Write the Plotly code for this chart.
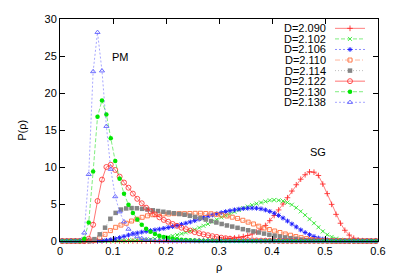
import plotly.graph_objects as go

# ---------------- data ----------------
RHO_120 = [0.0042, 0.0125, 0.0208, 0.0292, 0.0375, 0.0458, 0.0542, 0.0625, 0.0708, 0.0792, 0.0875, 0.0958,
           0.1042, 0.1125, 0.1208, 0.1292, 0.1375, 0.1458, 0.1542, 0.1625, 0.1708, 0.1792, 0.1875, 0.1958,
           0.2042, 0.2125, 0.2208, 0.2292, 0.2375, 0.2458, 0.2542, 0.2625, 0.2708, 0.2792, 0.2875, 0.2958,
           0.3042, 0.3125, 0.3208, 0.3292, 0.3375, 0.3458, 0.3542, 0.3625, 0.3708, 0.3792, 0.3875, 0.3958,
           0.4042, 0.4125, 0.4208, 0.4292, 0.4375, 0.4458, 0.4542, 0.4625, 0.4708, 0.4792, 0.4875, 0.4958,
           0.5042, 0.5125, 0.5208, 0.5292, 0.5375, 0.5458, 0.5542, 0.5625, 0.5708, 0.5792, 0.5875, 0.5958]

RHO_100 = [0.005, 0.015, 0.025, 0.035, 0.045, 0.055, 0.065, 0.075, 0.085, 0.095, 0.105, 0.115,
           0.125, 0.135, 0.145, 0.155, 0.165, 0.175, 0.185, 0.195, 0.205, 0.215, 0.225, 0.235,
           0.245, 0.255, 0.265, 0.275, 0.285, 0.295, 0.305, 0.315, 0.325, 0.335, 0.345, 0.355,
           0.365, 0.375, 0.385, 0.395, 0.405, 0.415, 0.425, 0.435, 0.445, 0.455, 0.465, 0.475,
           0.485, 0.495, 0.505, 0.515, 0.525, 0.535, 0.545, 0.555, 0.565, 0.575, 0.585, 0.595]

P_2090 = [0, 0, 0, 0, 0, 0, 0, 0, 0, 0, 0, 0,
          0, 0, 0, 0, 0, 0, 0, 0, 0, 0, 0, 0,
          0, 0, 0.01, 0.01, 0.02, 0.02, 0.03, 0.04, 0.06, 0.08, 0.11, 0.15,
          0.2, 0.26, 0.33, 0.41, 0.5, 0.6, 0.75, 0.95, 1.2, 1.6, 2.1, 2.75,
          3.45, 4.2, 5.0, 5.85, 6.75, 7.6, 8.35, 8.95, 9.35, 9.3, 8.85, 7.7,
          6.4, 4.95, 3.6, 2.4, 1.45, 0.8, 0.38, 0.15, 0.05, 0.02, 0, 0]

P_2102 = [0, 0, 0, 0, 0, 0, 0, 0, 0, 0, 0, 0.01,
          0.02, 0.03, 0.04, 0.06, 0.08, 0.1, 0.13, 0.17, 0.22, 0.28, 0.35, 0.45,
          0.55, 0.68, 0.82, 0.98, 1.15, 1.35, 1.55, 1.8, 2.05, 2.3, 2.6, 2.9,
          3.2, 3.45, 3.7, 3.95, 4.2, 4.45, 4.65, 4.85, 5.05, 5.2, 5.35, 5.5,
          5.55, 5.5, 5.4, 5.2, 4.9, 4.5, 4.0, 3.5, 2.95, 2.4, 1.85, 1.3,
          0.85, 0.55, 0.32, 0.18, 0.09, 0.04, 0.02, 0, 0, 0, 0, 0]

P_2106 = [0, 0, 0, 0, 0, 0, 0, 0, 0.02, 0.05, 0.1, 0.18,
          0.3, 0.45, 0.62, 0.8, 0.95, 1.08, 1.2, 1.3, 1.4, 1.5, 1.6, 1.7,
          1.82, 1.95, 2.1, 2.25, 2.4, 2.57, 2.75, 2.95, 3.15, 3.35, 3.52, 3.68,
          3.83, 3.97, 4.1, 4.2, 4.3, 4.38, 4.43, 4.45, 4.43, 4.35, 4.2, 4.0,
          3.75, 3.45, 3.1, 2.7, 2.3, 1.9, 1.5, 1.15, 0.85, 0.6, 0.4, 0.25,
          0.15, 0.08, 0.04, 0.02, 0, 0, 0, 0, 0, 0, 0, 0]

P_2110 = [0, 0, 0, 0, 0, 0, 0.05, 0.45, 0.9, 1.4, 1.85, 2.15,
          2.4, 2.7, 2.95, 3.2, 3.4, 3.55, 3.6, 3.65, 3.65, 3.7, 3.7, 3.7,
          3.72, 3.74, 3.75, 3.72, 3.68, 3.6, 3.5, 3.38, 3.22, 3.05, 2.8, 2.55,
          2.3, 2.0, 1.75, 1.55, 1.35, 1.15, 0.95, 0.78, 0.6, 0.45, 0.32, 0.2,
          0.12, 0.06, 0.03, 0, 0, 0, 0, 0, 0, 0, 0, 0]

P_2114 = [0, 0, 0, 0, 0, 0, 0.25, 0.9, 1.8, 3.0, 3.8, 4.25,
          4.4, 4.45, 4.42, 4.35, 4.25, 4.15, 4.05, 3.95, 3.85, 3.75, 3.65, 3.55,
          3.4, 3.25, 3.1, 2.9, 2.7, 2.5, 2.3, 2.1, 1.95, 1.78, 1.6, 1.45,
          1.3, 1.15, 1.0, 0.85, 0.72, 0.6, 0.48, 0.37, 0.27, 0.19, 0.12, 0.07,
          0.04, 0.02, 0.01, 0, 0, 0, 0, 0, 0, 0, 0, 0]

P_2122 = [0, 0, 0, 0, 0, 0, 0.3, 2.2, 5.4, 8.3, 10.0, 10.3,
          9.6, 8.7, 7.9, 7.2, 6.4, 5.7, 5.1, 4.5, 4.0, 3.6, 3.2, 2.85,
          2.6, 2.3, 2.05, 1.8, 1.6, 1.4, 1.2, 1.05, 0.9, 0.78, 0.65, 0.55,
          0.45, 0.38, 0.3, 0.24, 0.19, 0.15, 0.12, 0.09, 0.07, 0.05, 0.04, 0.03,
          0.02, 0.01, 0, 0, 0, 0, 0, 0, 0, 0, 0, 0,
          0, 0, 0, 0, 0, 0, 0, 0, 0, 0, 0, 0]

P_2130 = [0, 0, 0, 0, 0, 0.3, 2.5, 9.4, 16.8, 19.0, 17.1, 13.9,
          10.8, 8.4, 6.4, 4.9, 3.8, 2.9, 2.2, 1.65, 1.25, 0.95, 0.72, 0.55,
          0.42, 0.32, 0.24, 0.18, 0.13, 0.1, 0.07, 0.05, 0.04, 0.03, 0.02, 0.01,
          0, 0, 0, 0, 0, 0, 0, 0, 0, 0, 0, 0,
          0, 0, 0, 0, 0, 0, 0, 0, 0, 0, 0, 0,
          0, 0, 0, 0, 0, 0, 0, 0, 0, 0, 0, 0]

P_2138 = [0, 0, 0, 0, 0.05, 1.1, 9.0, 22.9, 28.2, 23.0, 15.5, 9.7,
          6.0, 3.95, 2.6, 1.6, 1.0, 0.6, 0.35, 0.2, 0.1, 0.05, 0.02, 0.01,
          0, 0, 0, 0, 0, 0, 0, 0, 0, 0, 0, 0,
          0, 0, 0, 0, 0, 0, 0, 0, 0, 0, 0, 0,
          0, 0, 0, 0, 0, 0, 0, 0, 0, 0, 0, 0,
          0, 0, 0, 0, 0, 0, 0, 0, 0, 0, 0, 0]

LABELS = ["D=2.090", "D=2.102", "D=2.106", "D=2.110", "D=2.114", "D=2.122", "D=2.130", "D=2.138"]
X_TICKS = [0, 0.1, 0.2, 0.3, 0.4, 0.5, 0.6]
X_TICKTEXT = ["0", "0.1", "0.2", "0.3", "0.4", "0.5", "0.6"]
Y_TICKS = [0, 5, 10, 15, 20, 25, 30]

# ---------------- styles ----------------
FONT = "Liberation Sans, Arial, sans-serif"
series = [
    dict(x=RHO_120, y=P_2090, color="rgba(255,40,40,0.85)", line="rgba(255,0,0,0.5)", dash="solid",
         symbol="cross-thin-open", size=4, mline=1),
    dict(x=RHO_120, y=P_2102, color="rgba(40,230,40,0.85)", line="rgba(0,220,0,0.5)", dash="4px,2px",
         symbol="x-thin-open", size=4, mline=1),
    dict(x=RHO_120, y=P_2106, color="#2020ff", line="rgba(0,0,255,0.45)", dash="2px,2px",
         symbol="asterisk-open", size=4, mline=1),
    dict(x=RHO_100, y=P_2110, color="rgba(255,110,60,0.9)", line="rgba(255,110,60,0.5)", dash="5px,2px,1px,2px",
         symbol="square-open", size=4, mline=1),
    dict(x=RHO_100, y=P_2114, color="#858585", line="rgba(128,128,128,0.5)", dash="1px,2px",
         symbol="square", size=4.5, mline=0),
    dict(x=RHO_120, y=P_2122, color="rgba(255,50,50,0.85)", line="rgba(255,0,0,0.55)", dash="solid",
         symbol="circle-open", size=5, mline=1),
    dict(x=RHO_120, y=P_2130, color="#00e600", line="rgba(0,220,0,0.5)", dash="4px,2px",
         symbol="circle", size=4.5, mline=0),
    dict(x=RHO_120, y=P_2138, color="rgba(90,90,255,0.85)", line="rgba(60,60,255,0.45)", dash="2px,2px",
         symbol="triangle-up-open", size=4.5, mline=1),
]

fig = go.Figure()
for lab, s in zip(LABELS, series):
    fig.add_trace(go.Scatter(
        x=s["x"], y=s["y"], mode="lines+markers", name=lab, showlegend=False,
        cliponaxis=False,
        line=dict(color=s["line"], width=1, dash=s["dash"]),
        marker=dict(symbol=s["symbol"], size=s["size"], color=s["color"],
                    line=dict(color=s["color"], width=s["mline"])),
    ))

# custom legend (text left, key on right, like gnuplot) drawn on an overlay
# axis measured in pixels from the plot area's top-left corner
ROW0, ROW_STEP = 9.6, 10.85
for i, (lab, s) in enumerate(zip(LABELS, series)):
    yy = ROW0 + ROW_STEP * i
    fig.add_trace(go.Scatter(
        x=[275, 305], y=[yy, yy], xaxis="x2", yaxis="y2", mode="lines",
        showlegend=False, hoverinfo="skip", cliponaxis=False,
        line=dict(color=s["line"], width=1, dash=s["dash"])))
    fig.add_trace(go.Scatter(
        x=[290], y=[yy], xaxis="x2", yaxis="y2", mode="markers",
        showlegend=False, hoverinfo="skip", cliponaxis=False,
        marker=dict(symbol=s["symbol"], size=s["size"], color=s["color"],
                    line=dict(color=s["color"], width=s["mline"]))))
    fig.add_annotation(x=268, y=yy, xref="x2", yref="y2", text=lab, showarrow=False,
                       xanchor="right", yanchor="middle",
                       font=dict(family=FONT, size=11, color="black"))

axis_common = dict(showline=True, linecolor="black", linewidth=1, mirror="allticks",
                   ticks="inside", ticklen=5, tickwidth=1, tickcolor="black",
                   showgrid=False, zeroline=False, ticklabeloverflow="allow",
                   tickfont=dict(family=FONT, size=11, color="black"))

# the page body adds an 8px offset, so the figure is sized to the remaining window
fig.update_layout(
    width=387, height=268,
    margin=dict(l=52, r=17, t=5, b=35),
    paper_bgcolor="white", plot_bgcolor="white",
    showlegend=False,
    xaxis=dict(range=[0, 0.6], tickvals=X_TICKS, ticktext=X_TICKTEXT, **axis_common),
    yaxis=dict(range=[0, 30], tickvals=Y_TICKS, ticktext=[str(v) for v in Y_TICKS], **axis_common),
    xaxis2=dict(range=[0, 318], overlaying="x", anchor="y2", visible=False, fixedrange=True),
    yaxis2=dict(range=[228, 0], overlaying="y", anchor="x2", visible=False, fixedrange=True),
)

fig.add_annotation(x=0.115, y=24.9, xref="x", yref="y", text="PM", showarrow=False,
                   font=dict(family=FONT, size=11, color="black"))
fig.add_annotation(x=0.487, y=12.0, xref="x", yref="y", text="SG", showarrow=False,
                   font=dict(family=FONT, size=11, color="black"))
fig.add_annotation(x=0.5, y=-0.118, xref="paper", yref="paper", text="ρ", showarrow=False,
                   xanchor="center", yanchor="middle", font=dict(family=FONT, size=11, color="black"))
fig.add_annotation(x=-0.12, y=0.5, xref="paper", yref="paper", text="P(ρ)", showarrow=False,
                   textangle=-90, xanchor="center", yanchor="middle",
                   font=dict(family=FONT, size=11, color="black"))

fig.write_html("out.html")
